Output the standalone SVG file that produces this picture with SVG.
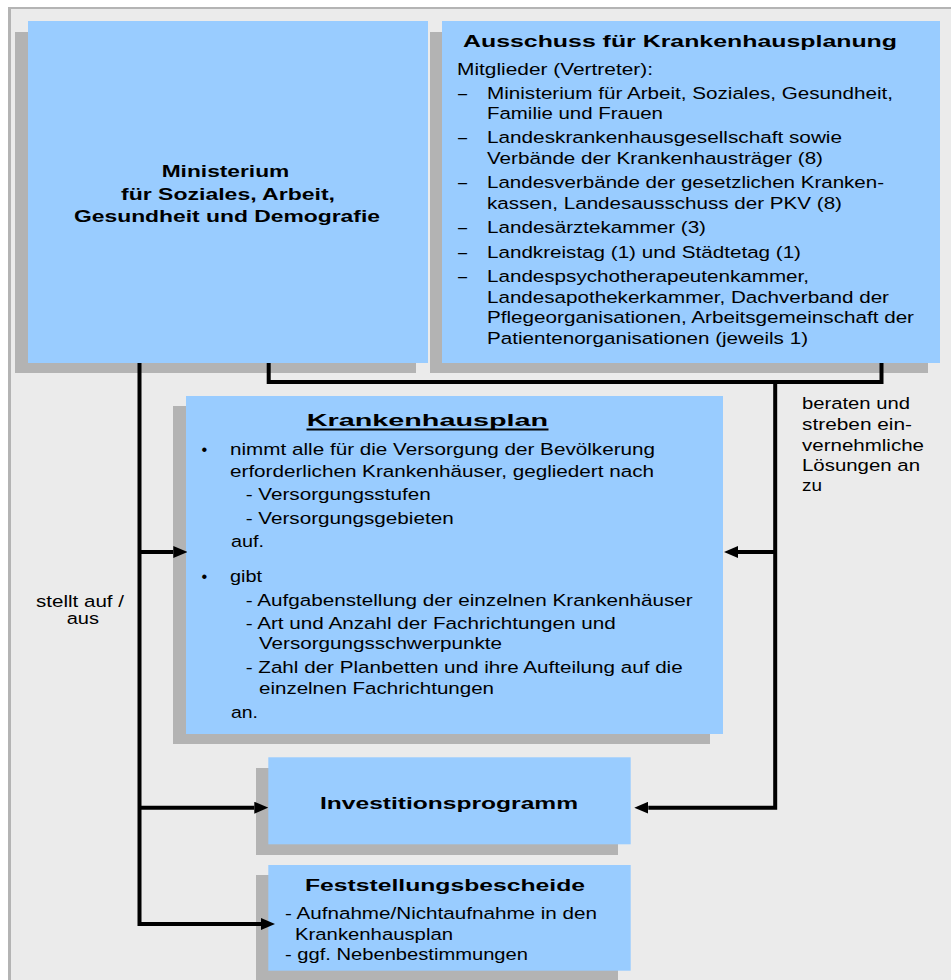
<svg xmlns="http://www.w3.org/2000/svg" width="951" height="980" viewBox="0 0 951 980">
<defs>
<style>
.frame{fill:#b4b4b4}
.bg{fill:#ebebeb}
.sh{fill:#b3b3b3}
.box{fill:#99ccff}
.t{font-family:"Liberation Sans",Arial,sans-serif;font-size:16.3px;fill:#000}
.b{font-weight:bold}
.conn{stroke:#000;stroke-width:4;fill:none;stroke-linejoin:miter}
</style>
<marker id="ah" markerUnits="userSpaceOnUse" markerWidth="14" markerHeight="12" refX="0" refY="6" orient="auto">
<path d="M0,0 L14,6 L0,12 z" fill="#000"/>
</marker>
</defs>
<rect x="0" y="0" width="951" height="980" fill="#ffffff"/>
<rect class="frame" x="8" y="7" width="943" height="973"/>
<rect class="bg" x="11" y="9" width="940" height="971"/>

<g id="ministerium">
<rect class="sh" x="15" y="32" width="401" height="341"/>
<rect class="box" x="28" y="21" width="400" height="342"/>
<text class="t b" font-size="18.5" x="161.7" y="176.7" textLength="127.6" lengthAdjust="spacingAndGlyphs">Ministerium</text>
<text class="t b" font-size="18.5" x="121" y="199.5" textLength="214" lengthAdjust="spacingAndGlyphs">für Soziales, Arbeit,</text>
<text class="t b" font-size="18.5" x="74" y="221.7" textLength="306" lengthAdjust="spacingAndGlyphs">Gesundheit und Demografie</text>
</g>

<g id="ausschuss">
<rect class="sh" x="430" y="32" width="498" height="341"/>
<rect class="box" x="442" y="21" width="498" height="342"/>
<text class="t b" font-size="21" x="463" y="46.5" textLength="434" lengthAdjust="spacingAndGlyphs">Ausschuss für Krankenhausplanung</text>
<text class="t" x="457" y="75" textLength="196" lengthAdjust="spacingAndGlyphs">Mitglieder (Vertreter):</text>
<text class="t" x="458" y="99">–</text>
<text class="t" x="487" y="99" textLength="406" lengthAdjust="spacingAndGlyphs">Ministerium für Arbeit, Soziales, Gesundheit,</text>
<text class="t" x="487" y="119.3" textLength="176" lengthAdjust="spacingAndGlyphs">Familie und Frauen</text>
<text class="t" x="458" y="143">–</text>
<text class="t" x="487" y="143" textLength="355" lengthAdjust="spacingAndGlyphs">Landeskrankenhausgesellschaft sowie</text>
<text class="t" x="487" y="164" textLength="336" lengthAdjust="spacingAndGlyphs">Verbände der Krankenhausträger (8)</text>
<text class="t" x="458" y="188">–</text>
<text class="t" x="487" y="188" textLength="397" lengthAdjust="spacingAndGlyphs">Landesverbände der gesetzlichen Kranken-</text>
<text class="t" x="487" y="209" textLength="355" lengthAdjust="spacingAndGlyphs">kassen, Landesausschuss der PKV (8)</text>
<text class="t" x="458" y="233">–</text>
<text class="t" x="487" y="233" textLength="219" lengthAdjust="spacingAndGlyphs">Landesärztekammer (3)</text>
<text class="t" x="458" y="258">–</text>
<text class="t" x="487" y="258" textLength="314" lengthAdjust="spacingAndGlyphs">Landkreistag (1) und Städtetag (1)</text>
<text class="t" x="458" y="282">–</text>
<text class="t" x="487" y="282" textLength="322" lengthAdjust="spacingAndGlyphs">Landespsychotherapeutenkammer,</text>
<text class="t" x="487" y="302.5" textLength="402" lengthAdjust="spacingAndGlyphs">Landesapothekerkammer, Dachverband der</text>
<text class="t" x="487" y="323" textLength="427" lengthAdjust="spacingAndGlyphs">Pflegeorganisationen, Arbeitsgemeinschaft der</text>
<text class="t" x="487" y="343.5" textLength="321" lengthAdjust="spacingAndGlyphs">Patientenorganisationen (jeweils 1)</text>
</g>

<g id="krankenhausplan">
<rect class="sh" x="173" y="406" width="537" height="338"/>
<rect class="box" x="186" y="396" width="537" height="338"/>
<text class="t b" font-size="24" x="306.7" y="425.7" textLength="241.5" lengthAdjust="spacingAndGlyphs">Krankenhausplan</text>
<rect x="306.5" y="428.5" width="242" height="2" fill="#000"/>
<text class="t" x="201.5" y="455">•</text>
<text class="t" x="230" y="455" textLength="425" lengthAdjust="spacingAndGlyphs">nimmt alle für die Versorgung der Bevölkerung</text>
<text class="t" x="230" y="476.7" textLength="424" lengthAdjust="spacingAndGlyphs">erforderlichen Krankenhäuser, gegliedert nach</text>
<text class="t" x="245.7" y="500" textLength="185" lengthAdjust="spacingAndGlyphs">- Versorgungsstufen</text>
<text class="t" x="245.7" y="524" textLength="208" lengthAdjust="spacingAndGlyphs">- Versorgungsgebieten</text>
<text class="t" x="231" y="547.3" textLength="33" lengthAdjust="spacingAndGlyphs">auf.</text>
<text class="t" x="201.5" y="581.7">•</text>
<text class="t" x="230" y="581.7" textLength="32" lengthAdjust="spacingAndGlyphs">gibt</text>
<text class="t" x="245.7" y="605.7" textLength="447" lengthAdjust="spacingAndGlyphs">- Aufgabenstellung der einzelnen Krankenhäuser</text>
<text class="t" x="245.7" y="629" textLength="370" lengthAdjust="spacingAndGlyphs">- Art und Anzahl der Fachrichtungen und</text>
<text class="t" x="259" y="649.3" textLength="243" lengthAdjust="spacingAndGlyphs">Versorgungsschwerpunkte</text>
<text class="t" x="245.7" y="673.3" textLength="437" lengthAdjust="spacingAndGlyphs">- Zahl der Planbetten und ihre Aufteilung auf die</text>
<text class="t" x="259" y="694.3" textLength="235" lengthAdjust="spacingAndGlyphs">einzelnen Fachrichtungen</text>
<text class="t" x="231" y="718.3" textLength="27" lengthAdjust="spacingAndGlyphs">an.</text>
</g>

<g id="investitionsprogramm">
<rect class="sh" x="256" y="768" width="362" height="87"/>
<rect class="box" x="268.3" y="757.3" width="362.4" height="87"/>
<text class="t b" font-size="22" x="320" y="809.3" textLength="258" lengthAdjust="spacingAndGlyphs">Investitionsprogramm</text>
</g>

<g id="feststellungsbescheide">
<rect class="sh" x="256" y="875" width="362" height="105"/>
<rect class="box" x="268.3" y="865" width="362.4" height="105.7"/>
<text class="t b" font-size="19.5" x="305" y="890.7" textLength="280" lengthAdjust="spacingAndGlyphs">Feststellungsbescheide</text>
<text class="t" x="285" y="919.3" textLength="312" lengthAdjust="spacingAndGlyphs">- Aufnahme/Nichtaufnahme in den</text>
<text class="t" x="295" y="940" textLength="158" lengthAdjust="spacingAndGlyphs">Krankenhausplan</text>
<text class="t" x="285" y="960.3" textLength="243" lengthAdjust="spacingAndGlyphs">- ggf. Nebenbestimmungen</text>
</g>

<g id="connectors">
<path class="conn" d="M139.5,363 V924 H261" marker-end="url(#ah)"/>
<path class="conn" d="M139.5,552 H173.3" marker-end="url(#ah)"/>
<path class="conn" d="M139.5,807.7 H254.3" marker-end="url(#ah)"/>
<path class="conn" d="M268.7,363 V382 H881.5 V363"/>
<path class="conn" d="M775.2,382 V807.7 H648.3" marker-end="url(#ah)"/>
<path class="conn" d="M775.2,552 H738" marker-end="url(#ah)"/>
</g>

<g id="labels">
<text class="t" x="36" y="606.7" textLength="88" lengthAdjust="spacingAndGlyphs">stellt auf /</text>
<text class="t" x="66.7" y="624" textLength="32.3" lengthAdjust="spacingAndGlyphs">aus</text>
<text class="t" x="802" y="409.3" textLength="108" lengthAdjust="spacingAndGlyphs">beraten und</text>
<text class="t" x="802" y="430" textLength="110" lengthAdjust="spacingAndGlyphs">streben ein-</text>
<text class="t" x="802" y="450.7" textLength="122" lengthAdjust="spacingAndGlyphs">vernehmliche</text>
<text class="t" x="802" y="471" textLength="118" lengthAdjust="spacingAndGlyphs">Lösungen an</text>
<text class="t" x="802" y="491" textLength="20" lengthAdjust="spacingAndGlyphs">zu</text>
</g>
</svg>
